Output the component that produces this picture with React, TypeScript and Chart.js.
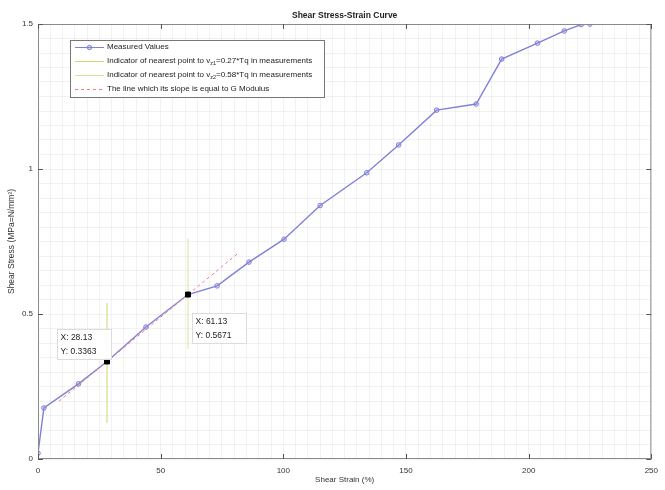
import React, { useEffect, useRef } from "react";
import { Chart, registerables } from "chart.js";

Chart.register(...registerables);

const strain = [0, 2.4, 16.5, 28.13, 44, 61.13, 73, 86, 100.3, 115, 134, 147, 162.5, 178.6, 189, 203.6, 214.5, 221.4, 225];
const stress = [0.02, 0.176, 0.259, 0.3363, 0.455, 0.5671, 0.597, 0.679, 0.758, 0.874, 0.987, 1.083, 1.203, 1.224, 1.379, 1.434, 1.476, 1.498, 1.5];

const ind1X = [28.13, 28.13];
const ind1Y = [0.124, 0.538];
const ind2X = [61.13, 61.13];
const ind2Y = [0.38, 0.76];
const gLineX = [8.5, 81.5];
const gLineY = [0.199, 0.709];

const markX = [28.13, 61.13];
const markY = [0.3363, 0.5671];

const xMajor = [0, 50, 100, 150, 200, 250];
const yMajor = [0, 0.5, 1, 1.5];

const legendLabels = [
  "Measured Values",
  "Indicator of nearest point to v|z1|=0.27*Tq in measurements",
  "Indicator of nearest point to v|z2|=0.58*Tq in measurements",
  "The line which its slope is equal to G Modulus",
];

const FONT = '"Liberation Sans", Arial, sans-serif';
const BLUE = "rgb(128,128,218)";
const YEL1 = "rgb(205,215,110)";
const YEL2 = "rgb(215,228,150)";
const RED = "rgb(240,125,125)";

const pts = (xs: number[], ys: number[]) => xs.map((x, i) => ({ x, y: ys[i] }));

const decor = {
  id: "decor",
  afterDraw(chart: any) {
    const ctx = chart.ctx;
    const { left, right, top, bottom } = chart.chartArea;
    const xs = chart.scales.x;
    const ys = chart.scales.y;
    ctx.save();
    ctx.strokeStyle = "#8a8a8a";
    ctx.lineWidth = 1;
    ctx.strokeRect(left + 0.5, top + 0.5, right - left - 1, bottom - top - 1);
    ctx.strokeStyle = "#555";
    ctx.beginPath();
    xMajor.forEach((v) => {
      const px = Math.round(xs.getPixelForValue(v)) + 0.5;
      ctx.moveTo(px, bottom);
      ctx.lineTo(px, bottom - 5);
      ctx.moveTo(px, top);
      ctx.lineTo(px, top + 5);
    });
    yMajor.forEach((v) => {
      const py = Math.round(ys.getPixelForValue(v)) + 0.5;
      ctx.moveTo(left, py);
      ctx.lineTo(left + 5, py);
      ctx.moveTo(right, py);
      ctx.lineTo(right - 5, py);
    });
    ctx.stroke();

    ctx.fillStyle = "#222";
    ctx.font = `bold 8.5px ${FONT}`;
    ctx.textAlign = "center";
    ctx.textBaseline = "middle";
    ctx.fillText("Shear Stress-Strain Curve", (left + right) / 2, 16);
    ctx.font = `8px ${FONT}`;
    ctx.fillStyle = "#333";
    ctx.fillText("Shear Strain (%)", (left + right) / 2, 480);
    ctx.save();
    ctx.translate(12, (top + bottom) / 2);
    ctx.rotate(-Math.PI / 2);
    ctx.font = `8.5px ${FONT}`;
    ctx.fillText("Shear Stress (MPa=N/mm\u00B2)", 0, 0);
    ctx.restore();

    const tips = [
      { i: 0, dx: -50, dy: -32 },
      { i: 1, dx: 4, dy: 18 },
    ];
    tips.forEach((t) => {
      const px = xs.getPixelForValue(markX[t.i]);
      const py = ys.getPixelForValue(markY[t.i]);
      const bx = Math.round(px + t.dx) + 0.5;
      const by = Math.round(py + t.dy) + 0.5;
      const w = 54, h = 30;
      ctx.fillStyle = "rgba(255,255,255,0.92)";
      ctx.fillRect(bx, by, w, h);
      ctx.strokeStyle = "#dcdcdc";
      ctx.strokeRect(bx, by, w, h);
      ctx.fillStyle = "#222";
      ctx.font = `8.5px ${FONT}`;
      ctx.textAlign = "left";
      ctx.textBaseline = "middle";
      ctx.fillText("X: " + markX[t.i].toFixed(2), bx + 3, by + 8);
      ctx.fillText("Y: " + markY[t.i].toFixed(4), bx + 3, by + 22);
    });

    const lx = 70.5, ly = 40.5, lw = 254, lh = 57;
    ctx.fillStyle = "#fff";
    ctx.fillRect(lx, ly, lw, lh);
    ctx.strokeStyle = "#777";
    ctx.strokeRect(lx, ly, lw, lh);
    const rowsY = [47, 61, 75, 89];
    const colors = [BLUE, YEL1, YEL2, RED];
    rowsY.forEach((ry, k) => {
      ctx.save();
      ctx.strokeStyle = colors[k];
      ctx.lineWidth = 1;
      if (k === 3) ctx.setLineDash([3, 3]);
      ctx.beginPath();
      ctx.moveTo(75, ry + 0.5);
      ctx.lineTo(104, ry + 0.5);
      ctx.stroke();
      ctx.restore();
      if (k === 0) {
        ctx.strokeStyle = BLUE;
        ctx.fillStyle = "rgba(128,128,218,0.3)";
        ctx.beginPath();
        ctx.arc(89.5, ry + 0.5, 2.2, 0, Math.PI * 2);
        ctx.fill();
        ctx.stroke();
      }
      ctx.fillStyle = "#222";
      ctx.textAlign = "left";
      ctx.textBaseline = "middle";
      const parts = legendLabels[k].split("|");
      let tx = 107;
      parts.forEach((p, pi) => {
        if (pi % 2 === 1) {
          ctx.font = `5.5px ${FONT}`;
          ctx.fillText(p, tx, ry + 2.5);
        } else {
          ctx.font = `8px ${FONT}`;
          ctx.fillText(p, tx, ry);
        }
        tx += ctx.measureText(p).width;
      });
    });
    ctx.restore();
  },
};

export default function App() {
  const ref = useRef<HTMLCanvasElement>(null);
  useEffect(() => {
    if (!ref.current) return;
    const chart = new Chart(ref.current, {
      type: "scatter",
      data: {
        datasets: [
          {
            label: legendLabels[0],
            data: pts(strain, stress),
            showLine: true,
            borderColor: BLUE,
            borderWidth: 1.4,
            pointRadius: 2.3,
            pointBorderWidth: 1,
            pointBorderColor: BLUE,
            pointBackgroundColor: "rgba(128,128,218,0.25)",
            order: 2,
          },
          {
            label: legendLabels[1],
            data: pts(ind1X, ind1Y),
            showLine: true,
            borderColor: YEL1,
            borderWidth: 1,
            pointRadius: 0,
            order: 3,
          },
          {
            label: legendLabels[2],
            data: pts(ind2X, ind2Y),
            showLine: true,
            borderColor: YEL2,
            borderWidth: 1,
            pointRadius: 0,
            order: 3,
          },
          {
            label: legendLabels[3],
            data: pts(gLineX, gLineY),
            showLine: true,
            borderColor: RED,
            borderWidth: 1,
            borderDash: [3, 3],
            pointRadius: 0,
            order: 1,
          },
          {
            label: "marks",
            data: pts(markX, markY),
            showLine: false,
            pointStyle: "rect",
            pointRadius: 3.5,
            pointBackgroundColor: "#000",
            pointBorderColor: "#000",
            order: 0,
          },
        ],
      },
      options: {
        responsive: false,
        animation: false,
        events: [],
        layout: { padding: { top: 24, right: 7, left: 0, bottom: 0 } },
        plugins: {
          legend: { display: false },
          title: { display: false },
          tooltip: { enabled: false },
        },
        scales: {
          x: {
            type: "linear",
            min: 0,
            max: 250,
            afterFit: (s: any) => {
              s.height = 31;
            },
            border: { display: false },
            grid: { color: "rgba(0,0,0,0.05)", lineWidth: 1, drawTicks: false },
            ticks: {
              stepSize: 5,
              autoSkip: false,
              maxRotation: 0,
              padding: 7,
              color: "#333",
              font: { family: FONT, size: 8 },
              callback: (v: any) => (Math.abs(v % 50) < 1e-6 ? String(v) : ""),
            },
          },
          y: {
            type: "linear",
            min: 0,
            max: 1.5,
            afterFit: (s: any) => {
              s.width = 38;
            },
            border: { display: false },
            grid: { color: "rgba(0,0,0,0.05)", lineWidth: 1, drawTicks: false },
            ticks: {
              stepSize: 0.05,
              autoSkip: false,
              padding: 5,
              color: "#333",
              font: { family: FONT, size: 8 },
              callback: (v: any) => {
                const n = Number(v);
                return Math.abs(n * 2 - Math.round(n * 2)) < 1e-6 ? String(Math.round(n * 10) / 10) : "";
              },
            },
          },
        },
      },
      plugins: [decor],
    });
    return () => chart.destroy();
  }, []);
  return (
    <div style={{ position: "absolute", left: 0, top: 0, width: 665, height: 490, background: "#fff" }}>
      <canvas ref={ref} width={665} height={490} style={{ display: "block" }} />
    </div>
  );
}
